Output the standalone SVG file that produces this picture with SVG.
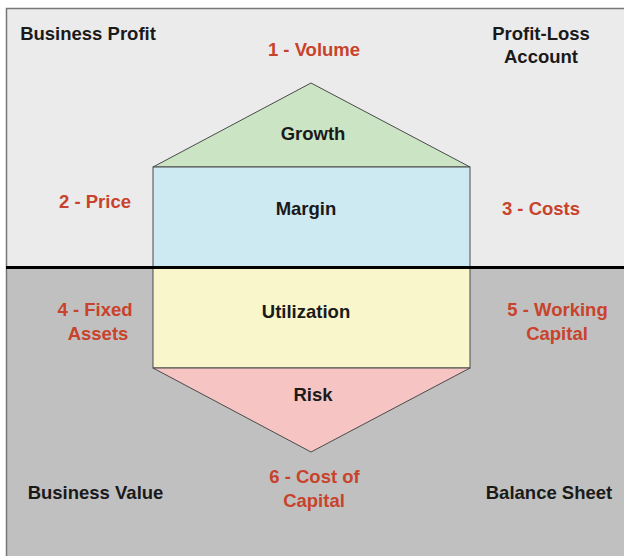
<svg xmlns="http://www.w3.org/2000/svg" width="624" height="556" viewBox="0 0 624 556">
  <style>
    text { font-family: "Liberation Sans", Arial, sans-serif; font-weight: bold; font-size: 18.5px; text-anchor: middle; }
    .lbl { fill: #1a1a1a; }
    .red { fill: #c8432b; }
    .shape { stroke: #4a4a4a; stroke-width: 1; }
  </style>
  <rect x="0" y="0" width="624" height="556" fill="#ffffff"/>
  <!-- profit-loss half and balance-sheet half -->
  <rect x="6.5" y="8.5" width="630" height="259" fill="#ebebeb"/>
  <rect x="6.5" y="267.5" width="630" height="300" fill="#c0c0c0"/>
  <rect x="6.5" y="8.5" width="630" height="560" fill="none" stroke="#777777" stroke-width="1.5"/>

  <g id="growth">
    <polygon class="shape" points="311,83 153,167 470,167" fill="#cbe4c4"/>
    <text class="lbl" x="313" y="140">Growth</text>
  </g>
  <g id="margin">
    <rect class="shape" x="153" y="167" width="317" height="100" fill="#cde9f1"/>
    <text class="lbl" x="306" y="215">Margin</text>
  </g>
  <g id="utilization">
    <rect class="shape" x="153" y="268" width="317" height="100" fill="#f9f6cb"/>
    <text class="lbl" x="306" y="318">Utilization</text>
  </g>
  <g id="risk">
    <polygon class="shape" points="153,368 470,368 311,452" fill="#f7c4c4"/>
    <text class="lbl" x="313" y="401">Risk</text>
  </g>

  <g id="connectors">
    <line x1="6" y1="267.5" x2="624" y2="267.5" stroke="#000000" stroke-width="3"/>
  </g>

  <g id="captions">
    <text class="lbl" x="88" y="40">Business Profit</text>
    <text class="lbl" x="541" y="40">Profit-Loss</text>
    <text class="lbl" x="541" y="63">Account</text>
    <text class="lbl" x="95.5" y="499">Business Value</text>
    <text class="lbl" x="549" y="499">Balance Sheet</text>
  </g>
  <g id="drivers">
    <text class="red" x="314" y="56">1 - Volume</text>
    <text class="red" x="95" y="208">2 - Price</text>
    <text class="red" x="541" y="215">3 - Costs</text>
    <text class="red" x="95" y="316">4 - Fixed</text>
    <text class="red" x="98" y="340">Assets</text>
    <text class="red" x="557.5" y="316">5 - Working</text>
    <text class="red" x="557" y="340">Capital</text>
    <text class="red" x="314.5" y="483">6 - Cost of</text>
    <text class="red" x="314" y="507">Capital</text>
  </g>
</svg>
